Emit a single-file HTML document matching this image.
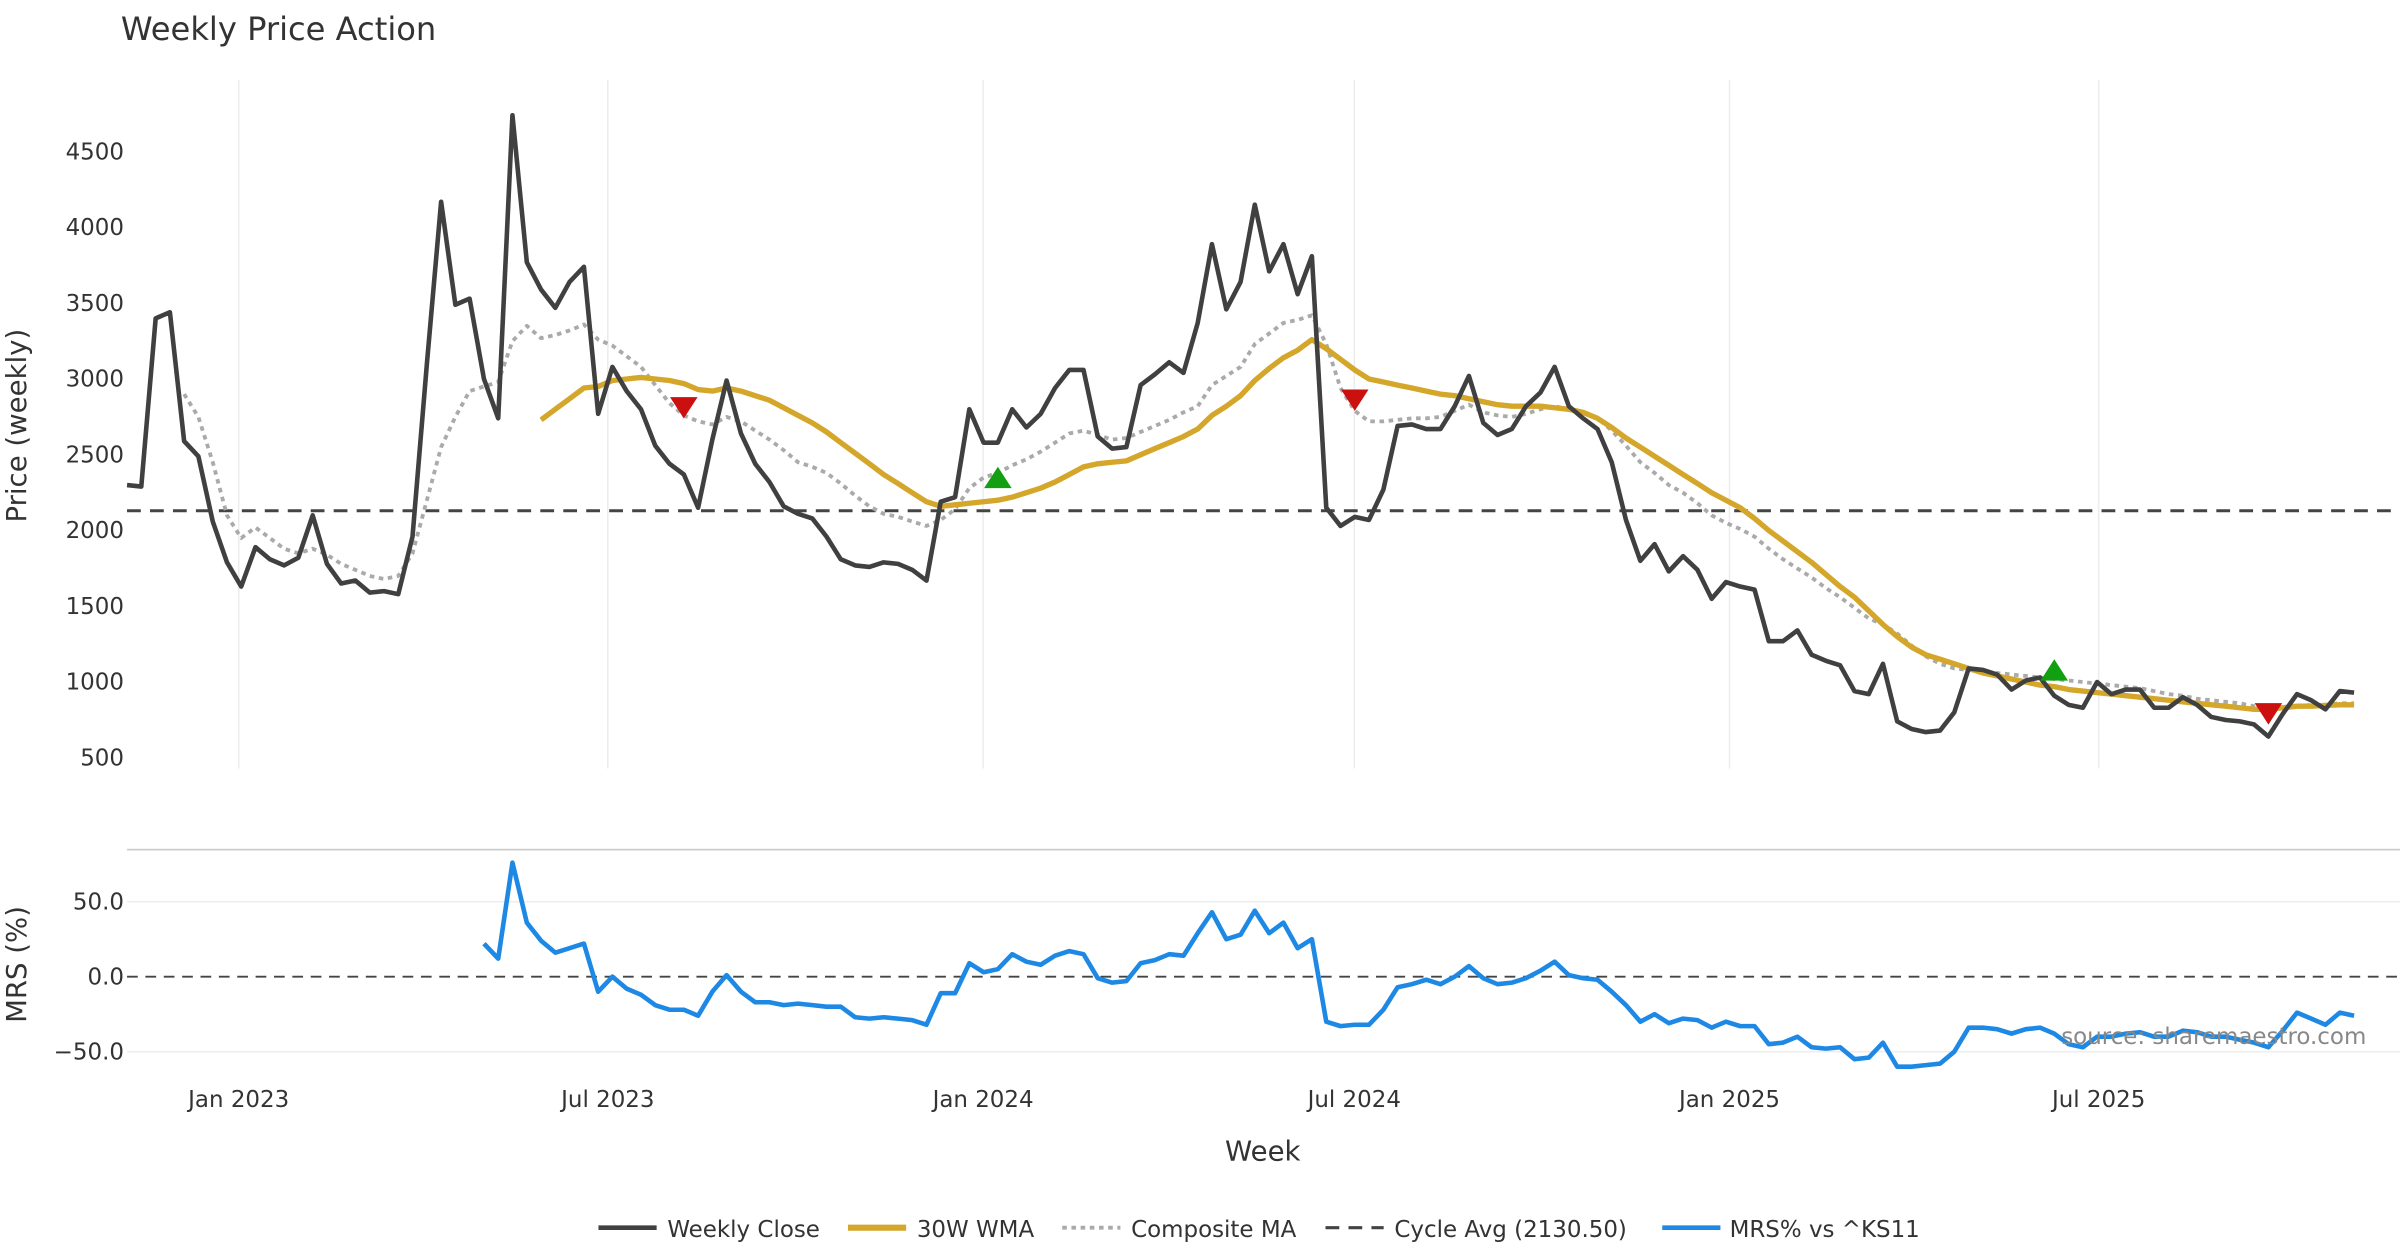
<!DOCTYPE html>
<html><head><meta charset="utf-8"><style>
html,body{margin:0;padding:0;background:#fff;}
svg{display:block;font-family:"DejaVu Sans","Liberation Sans",sans-serif;}
</style></head><body>
<svg id="chart" width="2400" height="1260" viewBox="0 0 1568 823">
<text x="79" y="26" font-size="21" fill="#333">Weekly Price Action</text>
<g id="grid"></g>
<g id="axes"></g>
<g id="series"></g>
<text transform="translate(17,278) rotate(-90)" text-anchor="middle" font-size="18" fill="#333">Price (weekly)</text>
<text transform="translate(17,630) rotate(-90)" text-anchor="middle" font-size="18" fill="#333">MRS (%)</text>
<text x="825" y="758" text-anchor="middle" font-size="18" fill="#333">Week</text>
<text x="1546" y="682" text-anchor="end" font-size="15" fill="#888">source: sharemaestro.com</text>
<g font-size="15" fill="#333">
<g><line x1="391" y1="802" x2="429" y2="802" stroke="#404040" stroke-width="3"/><text x="436" y="808">Weekly Close</text></g>
<g><line x1="554" y1="802" x2="592" y2="802" stroke="#d4a62a" stroke-width="4"/><text x="599" y="808">30W WMA</text></g>
<g><line x1="694" y1="802" x2="732" y2="802" stroke="#aaa" stroke-width="2.5" stroke-dasharray="3,3"/><text x="739" y="808">Composite MA</text></g>
<g><line x1="866" y1="802" x2="904" y2="802" stroke="#444" stroke-width="2" stroke-dasharray="9,6"/><text x="911" y="808">Cycle Avg (2130.50)</text></g>
<g><line x1="1086" y1="802" x2="1124" y2="802" stroke="#1e88e5" stroke-width="3"/><text x="1130" y="808">MRS% vs ^KS11</text></g>
</g>
</svg>
<script>
const closeVals=[2300,2290,3400,3440,2590,2490,2060,1790,1630,1890,1810,1770,1820,2100,1780,1650,1670,1590,1600,1580,1960,3100,4170,3490,3530,3000,2740,4740,3770,3590,3470,3640,3740,2770,3080,2920,2800,2560,2440,2370,2150,2600,2990,2640,2440,2320,2160,2110,2080,1960,1810,1770,1760,1790,1780,1740,1670,2190,2220,2800,2580,2580,2800,2680,2770,2940,3060,3060,2620,2540,2550,2960,3030,3110,3040,3370,3890,3460,3640,4150,3710,3890,3560,3810,2150,2030,2090,2070,2270,2690,2700,2670,2670,2820,3020,2710,2630,2670,2820,2910,3080,2820,2740,2670,2450,2070,1800,1910,1730,1830,1740,1550,1660,1630,1610,1270,1270,1340,1180,1140,1110,940,920,1120,740,690,670,680,800,1090,1080,1050,950,1010,1030,910,850,830,1000,920,950,950,830,830,900,850,770,750,740,720,640,790,920,880,820,940,930];
const wmaStart=29;
const wmaVals=[2730,2800,2870,2940,2950,2990,3000,3010,3000,2990,2970,2930,2920,2940,2920,2890,2860,2810,2760,2710,2650,2580,2510,2440,2370,2310,2250,2190,2160,2170,2180,2190,2200,2220,2250,2280,2320,2370,2420,2440,2450,2460,2500,2540,2580,2620,2670,2760,2820,2890,2990,3070,3140,3190,3260,3200,3130,3060,3000,2980,2960,2940,2920,2900,2890,2870,2850,2830,2820,2820,2820,2810,2800,2780,2740,2680,2610,2550,2490,2430,2370,2310,2250,2200,2150,2080,2000,1930,1860,1790,1710,1630,1560,1470,1380,1300,1230,1180,1150,1120,1090,1060,1040,1020,1000,980,970,950,940,930,920,910,900,890,880,870,860,850,840,830,820,820,830,840,840,845,850,850];
const compStart=4;
const compVals=[2900,2750,2450,2100,1950,2020,1950,1880,1850,1880,1840,1780,1740,1700,1680,1700,1850,2200,2550,2750,2920,2950,2980,3250,3350,3270,3290,3320,3360,3260,3220,3150,3080,2960,2840,2760,2720,2700,2750,2720,2660,2600,2530,2450,2420,2380,2310,2230,2160,2110,2090,2060,2030,2070,2140,2280,2350,2380,2430,2470,2520,2580,2640,2660,2630,2600,2610,2650,2690,2730,2780,2820,2960,3020,3080,3230,3300,3370,3390,3420,3230,2940,2790,2720,2720,2730,2740,2740,2750,2790,2830,2780,2760,2750,2770,2800,2820,2800,2780,2740,2660,2560,2450,2380,2300,2250,2180,2100,2050,2010,1960,1880,1810,1750,1690,1620,1560,1490,1420,1380,1320,1240,1170,1120,1090,1080,1070,1060,1050,1040,1030,1020,1010,1000,990,980,970,960,940,920,910,890,880,870,860,840,830,830,840,850,850,860,860];
const mrsStart=25;
const mrsVals=[22,12,76,36,24,16,19,22,-10,0,-8,-12,-19,-22,-22,-26,-10,1,-10,-17,-17,-19,-18,-19,-20,-20,-27,-28,-27,-28,-29,-32,-11,-11,9,3,5,15,10,8,14,17,15,-1,-4,-3,9,11,15,14,29,43,25,28,44,29,36,19,25,-30,-33,-32,-32,-22,-7,-5,-2,-5,0,7,-1,-5,-4,-1,4,10,1,-1,-2,-10,-19,-30,-25,-31,-28,-29,-34,-30,-33,-33,-45,-44,-40,-47,-48,-47,-55,-54,-44,-60,-60,-59,-58,-50,-34,-34,-35,-38,-35,-34,-38,-45,-47,-40,-40,-38,-37,-40,-40,-36,-37,-40,-40,-42,-44,-47,-36,-24,-28,-32,-24,-26];
const buyWeeks=[61,135];
const buyVals=[2340,1070];
const sellWeeks=[39,86,150];
const sellVals=[2820,2870,800];
const cycleAvg=2130.5;
const priceTicks=[500,1000,1500,2000,2500,3000,3500,4000,4500];
const mrsTicks=[50,0,-50];
const mrsTickLabels=["50.0","0.0","\u221250.0"];
const monthLabels=["Jan 2023","Jul 2023","Jan 2024","Jul 2024","Jan 2025","Jul 2025"];
const monthDates=["2023-01-01","2023-07-01","2024-01-01","2024-07-01","2025-01-01","2025-07-01"];
const startDate="2022-11-08";

const NS="http://www.w3.org/2000/svg";
const X0=83, X1=1538, N=closeVals.length;
const xw=i=>X0+i*(X1-X0)/(N-1);
const xd=d=>xw((new Date(d)-new Date(startDate))/(7*864e5));
const yp=v=>495-(v-500)*0.099;
const ym=v=>638-v*0.98;
function mk(tag,attrs,parent){const e=document.createElementNS(NS,tag);for(const k in attrs)e.setAttribute(k,attrs[k]);parent.appendChild(e);return e;}
const grid=document.getElementById('grid'),axes=document.getElementById('axes'),ser=document.getElementById('series');

monthDates.forEach((d,k)=>{
  const x=xd(d)+1;
  const g=mk('line',{x1:x,x2:x,y1:52,y2:502,stroke:'#ececec','stroke-width':1},grid);
  
  
  const t=mk('text',{x:x,y:723,'text-anchor':'middle','font-size':15,fill:'#333'},axes);
  t.textContent=monthLabels[k];
  
  
});
priceTicks.forEach(v=>{
  const t=mk('text',{x:81,y:yp(v)+5,'text-anchor':'end','font-size':15,fill:'#333'},axes);
  t.textContent=v;
  
  
});
const sep=mk('line',{x1:83,x2:1568,y1:555,y2:555,stroke:'#ccc','stroke-width':1.2},grid);


mrsTicks.forEach((v,k)=>{
  if(v!==0){const g=mk('line',{x1:83,x2:1568,y1:ym(v),y2:ym(v),stroke:'#eee','stroke-width':1},grid);
  
  }
  const t=mk('text',{x:81,y:ym(v)+5,'text-anchor':'end','font-size':15,fill:'#333'},axes);
  t.textContent=mrsTickLabels[k];
  
  
});
const z=mk('line',{x1:83,x2:1568,y1:ym(0),y2:ym(0),stroke:'#444','stroke-width':1.3,'stroke-dasharray':'7,5'},ser);


const ca=mk('line',{x1:83,x2:1568,y1:yp(cycleAvg),y2:yp(cycleAvg),stroke:'#444','stroke-width':2,'stroke-dasharray':'9,6'},ser);



function path(vals,start,yf,attrs){
  const d=vals.map((v,k)=>(k?'L':'M')+xw(start+k).toFixed(1)+','+yf(v).toFixed(1)).join('');
  return mk('path',Object.assign({d:d,fill:'none','stroke-linejoin':'round'},attrs),ser);
}
const pc=path(compVals,compStart,yp,{stroke:'#aaa','stroke-width':2.5,'stroke-dasharray':'3,3'});


const pw=path(wmaVals,wmaStart,yp,{stroke:'#d4a62a','stroke-width':3.5});


const pcl=path(closeVals,0,yp,{stroke:'#404040','stroke-width':3});


const pm=path(mrsVals,mrsStart,ym,{stroke:'#1e88e5','stroke-width':3});



buyWeeks.forEach((w,k)=>{
  const x=xw(w),y=yp(buyVals[k]);
  const p=mk('path',{d:`M${x-9},${y+6}L${x+9},${y+6}L${x},${y-8}Z`,fill:'#12a012'},ser);
  
  
});
sellWeeks.forEach((w,k)=>{
  const x=xw(w),y=yp(sellVals[k]);
  const p=mk('path',{d:`M${x-9},${y-6}L${x+9},${y-6}L${x},${y+8}Z`,fill:'#cc1010'},ser);
  
  
});
</script>
</body></html>
